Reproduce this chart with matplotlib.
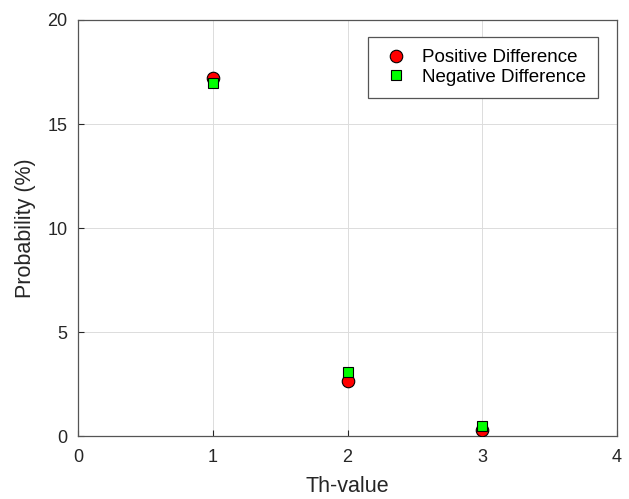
import matplotlib.pyplot as plt

th_values = [1, 2, 3]
positive_diff = [17.2, 2.65, 0.3]
negative_diff = [16.95, 3.1, 0.48]

plt.rcParams['font.family'] = ['Liberation Sans', 'DejaVu Sans']

fig = plt.figure(figsize=(6.29, 4.99), dpi=100)
ax = fig.add_axes([0.124, 0.126, 0.857, 0.834])

ax.plot(th_values, positive_diff, 'o', color='red', markeredgecolor='black',
        markeredgewidth=0.8, markersize=9, label='Positive Difference', zorder=3)
ax.plot(th_values, negative_diff, 's', color='#00ff00', markeredgecolor='black',
        markeredgewidth=0.8, markersize=7.5, label='Negative Difference', zorder=3)

ax.set_xlim(0, 4)
ax.set_ylim(0, 20)
ax.set_xticks([0, 1, 2, 3, 4])
ax.set_yticks([0, 5, 10, 15, 20])
ax.grid(True, color='#dcdcdc', linewidth=0.7)
ax.set_axisbelow(True)
ax.tick_params(direction='in', labelsize=13, colors='#262626', length=4)
ax.tick_params(axis='x', pad=9.5)
ax.tick_params(axis='y', pad=7.5)
for s in ax.spines.values():
    s.set_color('#555555')
    s.set_linewidth(0.9)

ax.set_xlabel('Th-value', fontsize=15.5, color='#262626', labelpad=7)
ax.set_ylabel('Probability (%)', fontsize=15.5, color='#262626', labelpad=8)

leg = ax.legend(loc='upper right', bbox_to_anchor=(0.965, 0.959), borderaxespad=0,
                fontsize=13.5, fancybox=False, framealpha=1, edgecolor='#555555',
                handletextpad=0.5, borderpad=0.65, labelspacing=0.12,
                handlelength=1.72)
leg.get_frame().set_linewidth(0.9)

fig.savefig('out.png', dpi=100)
